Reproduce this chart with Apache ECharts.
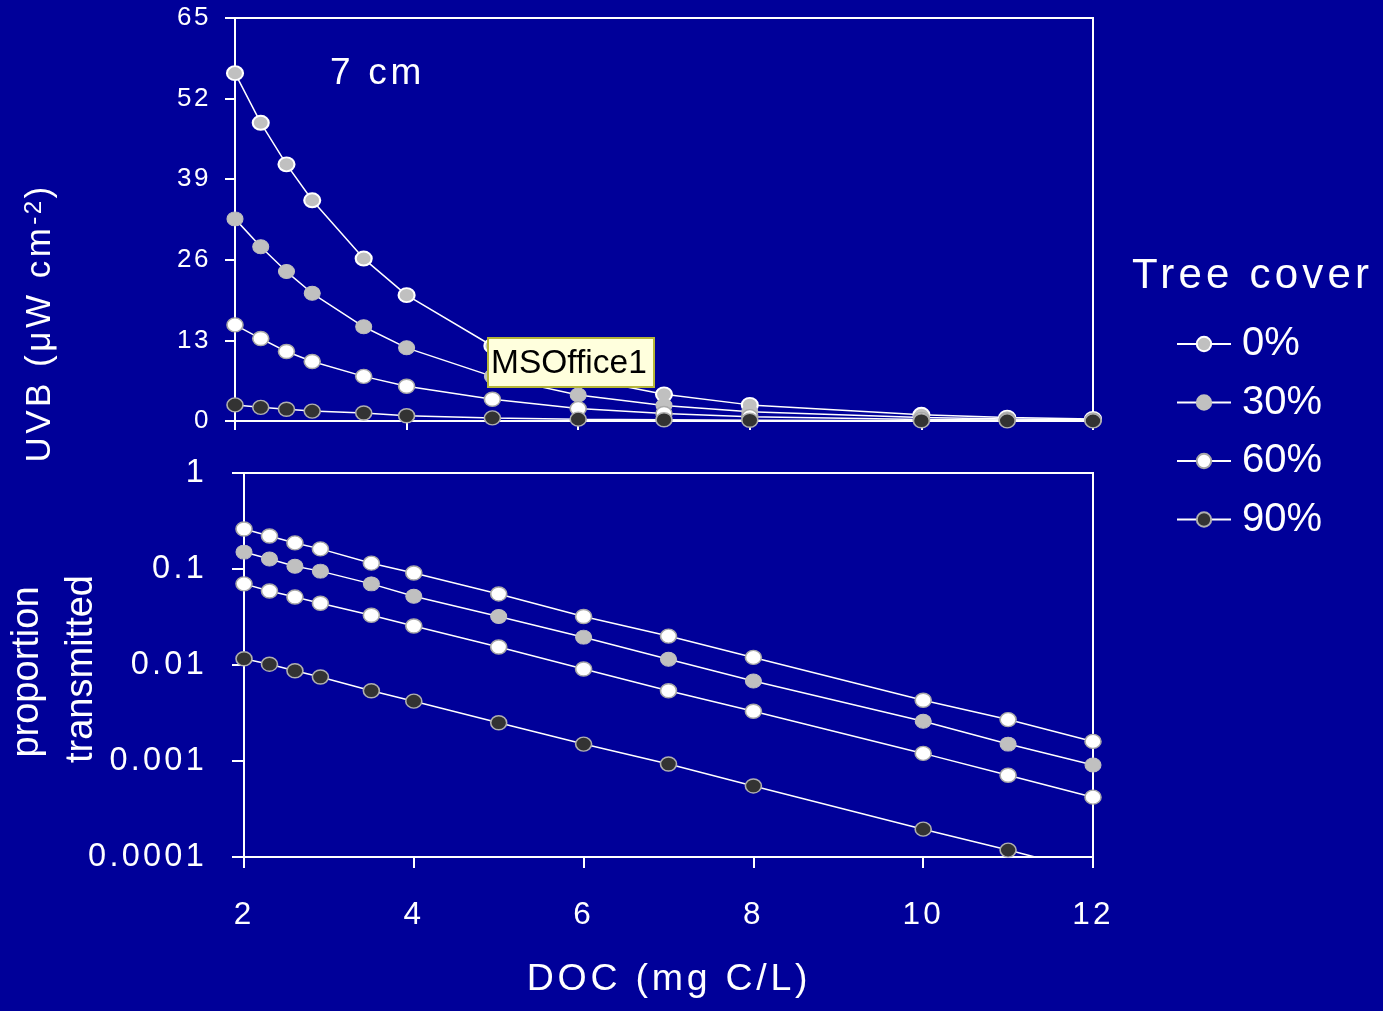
<!DOCTYPE html>
<html>
<head>
<meta charset="utf-8">
<script src="https://cdn.jsdelivr.net/npm/echarts@6/dist/echarts.min.js"></script>
<style>
html,body{margin:0;padding:0;background:#000099;}
#chart{width:1383px;height:1011px;}
</style>
</head>
<body>
<div id="chart"></div>
<script>
// Expanded character spacing (as in the original slide) for text set in plain "Liberation Sans"
(function(){
  var P = CanvasRenderingContext2D.prototype;
  function apply(ctx){
    var f = ctx.font || '';
    if (/sans-serif/.test(f)) { ctx.letterSpacing = '0px'; return; }
    var m = f.match(/(\d+(?:\.\d+)?)px/);
    ctx.letterSpacing = m ? (parseFloat(m[1]) * 0.1).toFixed(2) + 'px' : '0px';
  }
  ['fillText','strokeText','measureText'].forEach(function(n){
    var orig = P[n];
    P[n] = function(){ apply(this); return orig.apply(this, arguments); };
  });
})();

// ---- data ----
var doc = [2, 2.3, 2.6, 2.9, 3.5, 4, 5, 6, 7, 8, 10, 11, 12];
var coverNames = ['0%', '30%', '60%', '90%'];

// top panel: UVB (µW cm-2) at 7 cm
var uvb0  = [56.1, 48.1, 41.4, 35.6, 26.2, 20.3, 12.1, 7.0, 4.3, 2.6, 1.0, 0.55, 0.33];
var uvb30 = [32.6, 28.1, 24.1, 20.6, 15.2, 11.8, 7.2, 4.2, 2.5, 1.5, 0.56, 0.32, 0.2];
var uvb60 = [15.5, 13.3, 11.2, 9.6, 7.2, 5.6, 3.5, 2.0, 1.2, 0.7, 0.26, 0.15, 0.09];
var uvb90 = [2.6, 2.2, 1.9, 1.6, 1.3, 0.85, 0.5, 0.3, 0.2, 0.12, 0.04, 0.025, 0.015];

// bottom panel: proportion transmitted (log scale)
var prop0  = [0.261, 0.221, 0.187, 0.162, 0.115, 0.091, 0.055, 0.032, 0.020, 0.012, 0.0043, 0.0027, 0.0016];
var prop30 = [0.150, 0.127, 0.107, 0.095, 0.070, 0.052, 0.032, 0.0195, 0.0115, 0.0068, 0.0026, 0.0015, 0.00091];
var prop60 = [0.070, 0.059, 0.051, 0.044, 0.033, 0.0255, 0.0154, 0.0091, 0.0054, 0.0033, 0.0012, 0.00071, 0.00042];
var prop90 = [0.0116, 0.0102, 0.0087, 0.0075, 0.0054, 0.0042, 0.0025, 0.0015, 0.00093, 0.00055, 0.000195, 0.000118, 0.00007];

var uvbTicks = [0, 13, 26, 39, 52, 65];
var propTickLabels = ['0.0001', '0.001', '0.01', '0.1', '1'];
var docTicks = [2, 4, 6, 8, 10, 12];

// ---- styles ----
var GRAY = '#c0c0c0', DARK = '#333333', WHITE = '#ffffff';
var SPACED = 'Liberation Sans';
var PLAIN = "'Liberation Sans', sans-serif";

var topStyles = [
  {color: GRAY, borderColor: WHITE, borderWidth: 2},
  {color: GRAY, borderColor: GRAY, borderWidth: 1},
  {color: WHITE, borderColor: '#a8a8a8', borderWidth: 1.5},
  {color: DARK, borderColor: '#b0b0b0', borderWidth: 1.5}
];
var botStyles = [
  {color: WHITE, borderColor: '#a8a8a8', borderWidth: 1.5},
  {color: GRAY, borderColor: GRAY, borderWidth: 1},
  {color: WHITE, borderColor: '#a8a8a8', borderWidth: 1.5},
  {color: DARK, borderColor: '#b0b0b0', borderWidth: 1.5}
];

function pairs(vals){ return doc.map(function(x, i){ return [x, vals[i]]; }); }
function mkSeries(name, vals, axis, st){
  return {
    name: name, type: 'line', xAxisIndex: axis, yAxisIndex: axis,
    data: pairs(vals), symbol: 'circle', symbolSize: [16, 14], showSymbol: true,
    lineStyle: {color: WHITE, width: 1.5},
    itemStyle: st, emphasis: {disabled: true}, clip: true, animation: false
  };
}

var topVals = [uvb0, uvb30, uvb60, uvb90];
var botVals = [prop0, prop30, prop60, prop90];
var series = [];
coverNames.forEach(function(n, i){ series.push(mkSeries(n, topVals[i], 0, topStyles[i])); });
coverNames.forEach(function(n, i){ series.push(mkSeries(n, botVals[i], 1, botStyles[i])); });

var axLine = {show: true, onZero: false, lineStyle: {color: WHITE, width: 2}};
function tick(len){ return {show: true, inside: false, length: len, lineStyle: {color: WHITE, width: 2}}; }

var chart = echarts.init(document.getElementById('chart'), null, {renderer: 'canvas'});
chart.setOption({
  backgroundColor: '#000099',
  animation: false,
  grid: [
    {left: 235, top: 18, width: 858, height: 403, show: true, borderColor: WHITE, borderWidth: 2, containLabel: false, outerBoundsMode: 'none'},
    {left: 244, top: 473, width: 849, height: 384, show: true, borderColor: WHITE, borderWidth: 2, containLabel: false, outerBoundsMode: 'none'}
  ],
  xAxis: [
    {gridIndex: 0, type: 'value', min: docTicks[0], max: docTicks[docTicks.length - 1], interval: 2,
     axisLine: axLine, axisTick: tick(9), axisLabel: {show: false}, splitLine: {show: false}},
    {gridIndex: 1, type: 'value', min: docTicks[0], max: docTicks[docTicks.length - 1], interval: 2,
     axisLine: axLine, axisTick: tick(11), splitLine: {show: false},
     axisLabel: {show: true, color: WHITE, fontSize: 31.5, fontFamily: SPACED, margin: 41, showMinLabel: true, showMaxLabel: true}}
  ],
  yAxis: [
    {gridIndex: 0, type: 'value', min: uvbTicks[0], max: uvbTicks[uvbTicks.length - 1], interval: 13,
     axisLine: axLine, axisTick: tick(10), splitLine: {show: false},
     axisLabel: {show: true, color: WHITE, fontSize: 26, fontFamily: SPACED, margin: 24, showMinLabel: true, showMaxLabel: true}},
    {gridIndex: 1, type: 'log', logBase: 10, min: 0.0001, max: 1, splitNumber: 4,
     axisLine: axLine, axisTick: tick(12), splitLine: {show: false},
     axisLabel: {show: true, color: WHITE, fontSize: 32.5, fontFamily: SPACED, margin: 37, showMinLabel: true, showMaxLabel: true,
       formatter: function(v){ var k = Math.round(Math.log10(v)) + 4; return propTickLabels[k] !== undefined ? propTickLabels[k] : ''; }}}
  ],
  legend: {
    data: coverNames, orient: 'vertical', left: 1171, top: 319, padding: 5,
    itemWidth: 54, itemHeight: 18, itemGap: 18.5, selectedMode: false,
    textStyle: {color: WHITE, fontSize: 40, fontFamily: PLAIN, padding: [0, 0, 0, 6]}
  },
  graphic: [
    {type: 'text', x: 330, y: 74, z: 10, style: {text: '7 cm', fill: WHITE, fontSize: 37, fontFamily: SPACED, textAlign: 'left', textVerticalAlign: 'middle'}},
    {type: 'text', x: 669, y: 980, z: 10, style: {text: 'DOC (mg C/L)', fill: WHITE, fontSize: 37.5, fontFamily: SPACED, textAlign: 'center', textVerticalAlign: 'middle'}},
    {type: 'text', x: 1132, y: 276, z: 10, style: {text: 'Tree cover', fill: WHITE, fontSize: 42, fontFamily: SPACED, textAlign: 'left', textVerticalAlign: 'middle'}},
    {type: 'text', x: 40, y: 323, rotation: Math.PI / 2, z: 10, style: {
      text: 'UVB (μW cm{sup|-2})', fill: WHITE, fontSize: 35, fontFamily: SPACED, textAlign: 'center', textVerticalAlign: 'middle',
      rich: {sup: {fontSize: 24, fontFamily: SPACED, fill: WHITE, verticalAlign: 'top', padding: [0, 0, 6, 0]}}}},
    {type: 'text', x: 28, y: 672, rotation: Math.PI / 2, z: 10, style: {text: 'proportion', fill: WHITE, fontSize: 38, fontFamily: PLAIN, textAlign: 'center', textVerticalAlign: 'middle'}},
    {type: 'text', x: 82, y: 669, rotation: Math.PI / 2, z: 10, style: {text: 'transmitted', fill: WHITE, fontSize: 38, fontFamily: PLAIN, textAlign: 'center', textVerticalAlign: 'middle'}},
    {type: 'group', z: 100, children: [
      {type: 'rect', shape: {x: 488, y: 338, width: 166, height: 49}, z: 100, style: {fill: '#ffffdd', stroke: '#b5b53a', lineWidth: 2}},
      {type: 'text', x: 491, y: 364, z: 101, style: {text: 'MSOffice1', fill: '#000000', fontSize: 33.5, fontFamily: PLAIN, textAlign: 'left', textVerticalAlign: 'middle'}}
    ]}
  ],
  series: series
});
</script>
</body>
</html>
